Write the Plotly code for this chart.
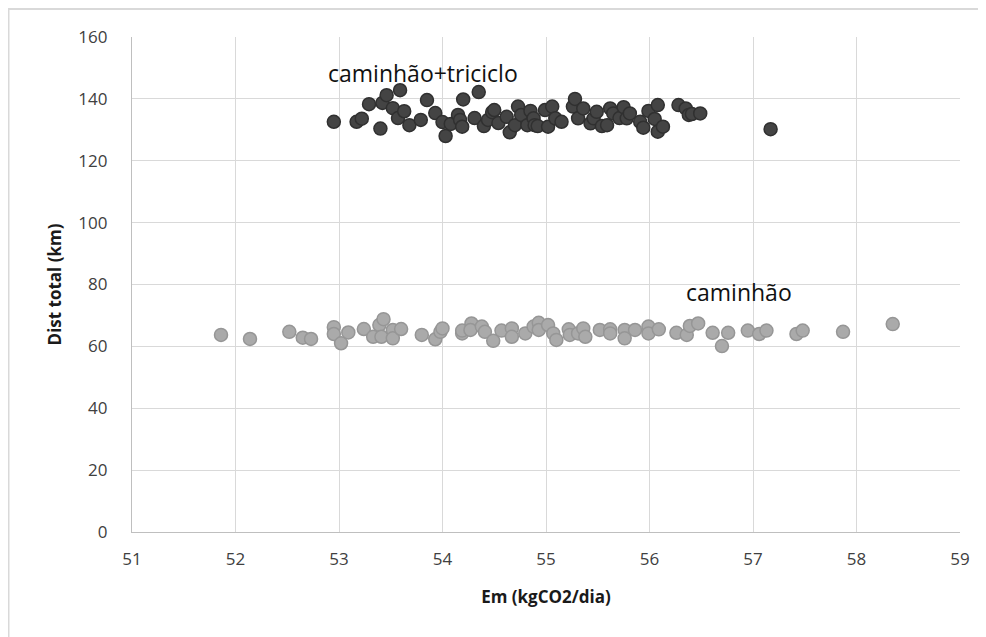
import plotly.graph_objects as go

# caminhão+triciclo (dark)
tri_x = [52.95, 53.17, 53.22, 53.29, 53.40, 53.42, 53.46, 53.52, 53.57, 53.59, 53.63, 53.68,
         53.79, 53.85, 53.93, 54.00, 54.03, 54.08, 54.15, 54.17, 54.19, 54.20, 54.31, 54.35,
         54.40, 54.44, 54.48, 54.50, 54.54, 54.62, 54.65, 54.70, 54.73, 54.76, 54.82, 54.85,
         54.88, 54.89, 54.92, 54.99, 55.02, 55.06, 55.09, 55.15, 55.26, 55.28, 55.31, 55.36,
         55.43, 55.46, 55.49, 55.54, 55.59, 55.62, 55.65, 55.71, 55.75, 55.78, 55.81, 55.91,
         55.94, 55.99, 56.05, 56.08, 56.08, 56.13, 56.28, 56.35, 56.38, 56.41, 56.49, 57.17]
tri_y = [132.6, 132.6, 133.6, 138.3, 130.4, 138.7, 141.2, 137.0, 133.8, 142.8, 136.0, 131.5,
         133.2, 139.6, 135.4, 132.5, 128.0, 131.9, 134.8, 133.2, 131.0, 139.8, 133.8, 142.2,
         131.2, 133.2, 135.7, 136.4, 132.2, 134.2, 129.2, 131.5, 137.5, 134.8, 131.5, 136.1,
         133.7, 131.5, 131.2, 136.4, 131.0, 137.5, 133.7, 132.6, 137.5, 140.0, 133.7, 136.9,
         132.1, 133.7, 135.8, 131.2, 131.5, 136.9, 135.3, 133.8, 137.3, 133.7, 135.3, 132.6,
         130.7, 136.1, 133.5, 138.0, 129.4, 131.0, 138.0, 136.9, 134.8, 135.1, 135.3, 130.2]

# caminhão (light)
cam_x = [51.86, 52.14, 52.52, 52.65, 52.73, 52.95, 52.95, 53.02, 53.09, 53.24, 53.33, 53.39,
         53.43, 53.41, 53.52, 53.52, 53.60, 53.80, 53.93, 53.98, 54.00, 54.19, 54.19, 54.28,
         54.27, 54.38, 54.41, 54.49, 54.57, 54.67, 54.67, 54.80, 54.88, 54.93, 54.93, 55.02,
         55.07, 55.10, 55.22, 55.23, 55.31, 55.36, 55.38, 55.52, 55.62, 55.62, 55.76, 55.76,
         55.86, 55.99, 55.99, 56.09, 56.26, 56.36, 56.39, 56.47, 56.61, 56.70, 56.76, 56.95,
         57.06, 57.13, 57.42, 57.48, 57.87, 58.35]
cam_y = [63.7, 62.4, 64.7, 62.8, 62.4, 66.2, 64.0, 61.0, 64.5, 65.6, 63.1, 66.9,
         68.8, 63.1, 65.3, 62.6, 65.6, 63.7, 62.3, 64.7, 65.8, 64.2, 65.1, 67.4,
         65.3, 66.4, 64.7, 61.8, 65.1, 65.8, 63.1, 64.2, 66.4, 67.6, 65.3, 66.9,
         64.2, 62.1, 65.5, 63.7, 64.2, 65.8, 63.1, 65.3, 65.5, 64.2, 65.3, 62.6,
         65.3, 66.4, 64.2, 65.5, 64.4, 63.7, 66.6, 67.4, 64.4, 60.1, 64.4, 65.1,
         64.0, 65.1, 64.0, 65.1, 64.7, 67.2]

x_ticks = [51, 52, 53, 54, 55, 56, 57, 58, 59]
y_ticks = [0, 20, 40, 60, 80, 100, 120, 140, 160]

font_fam = "Open Sans, Noto Sans, sans-serif"

L, R, T, B = 124, 34, 29, 113
W, H = 986, 637
PW, PH = W - L - R, H - T - B

fig = go.Figure()
fig.add_trace(go.Scatter(
    x=cam_x, y=cam_y, mode="markers", name="caminhão",
    marker=dict(size=13, color="#aaaaaa", line=dict(color="#969696", width=1.5)),
))
fig.add_trace(go.Scatter(
    x=tri_x, y=tri_y, mode="markers", name="caminhão+triciclo",
    marker=dict(size=13, color="#444444", line=dict(color="#303030", width=1.5)),
))

fig.add_annotation(x=53.81, y=148.5, text="caminhão+triciclo", showarrow=False,
                   font=dict(family=font_fam, size=23, color="#111111"))
fig.add_annotation(x=56.86, y=77.5, text="caminhão", showarrow=False,
                   font=dict(family=font_fam, size=23, color="#111111"))

# outer chart border (left and top visible)
fig.add_shape(type="rect", xref="paper", yref="paper",
              x0=-(L - 0.5) / PW, x1=1 + (R + 30) / PW,
              y0=-(B + 30) / PH, y1=1 + (T - 1) / PH,
              line=dict(color="#d9d9d9", width=2), fillcolor="rgba(0,0,0,0)", layer="below")

fig.update_layout(
    width=W, height=H,
    margin=dict(l=L, r=R, t=T, b=B),
    paper_bgcolor="white", plot_bgcolor="white",
    showlegend=False,
    font=dict(family=font_fam, color="#404040", size=17),
    xaxis=dict(range=[51, 59], tickvals=x_ticks, ticktext=[str(v) for v in x_ticks],
               showgrid=True, gridcolor="#d9d9d9", gridwidth=1,
               zeroline=False, showline=True, linecolor="#bfbfbf", linewidth=1.2,
               ticks="", ticklabelstandoff=11, tickfont=dict(size=17, color="#404040"),
               title=dict(text="<b>Em (kgCO2/dia)</b>", font=dict(size=17, color="#1a1a1a"), standoff=22)),
    yaxis=dict(range=[0, 160], tickvals=y_ticks, ticktext=[str(v) for v in y_ticks],
               showgrid=True, gridcolor="#d9d9d9", gridwidth=1,
               zeroline=False, showline=True, linecolor="#bfbfbf", linewidth=1.2,
               ticks="", ticklabelstandoff=20, tickfont=dict(size=17, color="#404040"),
               title=dict(text="<b>Dist total (km)</b>", font=dict(size=17, color="#1a1a1a"), standoff=12)),
)

fig.write_html("out.html")
